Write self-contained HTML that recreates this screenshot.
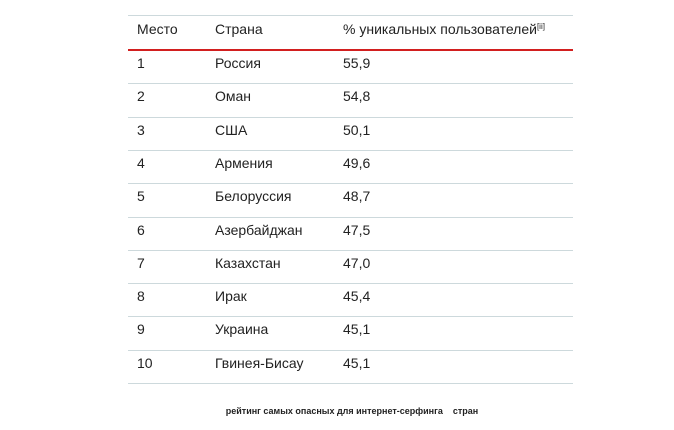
<!DOCTYPE html>
<html><head><meta charset="utf-8"><style>
body{margin:0;width:674px;height:430px;background:#fff;font-family:"Liberation Sans",Arial,sans-serif;color:#222;position:relative;overflow:hidden}
.l{position:absolute;left:128px;width:445px;height:1px;background:#cdd9dc}
.t{position:absolute;font-size:14px;line-height:16px}
.cap{position:absolute;top:406px;left:0;width:704px;text-align:center;font-size:9px;font-weight:bold;color:#222}
</style></head><body>
<div class="l" style="top:15px"></div>
<div class="t" style="left:137px;top:21px">Место</div>
<div class="t" style="left:215px;top:21px">Страна</div>
<div class="t" style="left:343px;top:21px">% уникальных пользователей<sup style="font-size:8px;vertical-align:5px;line-height:0">[ii]</sup></div>
<div style="position:absolute;left:128px;width:445px;top:49px;height:2px;background:#d21f1f"></div>
<div id="rows"></div>
<script>
var d=[["1","Россия","55,9"],["2","Оман","54,8"],["3","США","50,1"],["4","Армения","49,6"],["5","Белоруссия","48,7"],["6","Азербайджан","47,5"],["7","Казахстан","47,0"],["8","Ирак","45,4"],["9","Украина","45,1"],["10","Гвинея-Бисау","45,1"]];
var h="";
d.forEach(function(r,i){var y=50+i*33.3;
h+='<div class="t" style="left:137px;top:'+(y+5)+'px">'+r[0]+'</div><div class="t" style="left:215px;top:'+(y+5)+'px">'+r[1]+'</div><div class="t" style="left:343px;top:'+(y+5)+'px">'+r[2]+'</div><div class="l" style="top:'+Math.round(y+33.3)+'px"></div>';});
document.getElementById("rows").innerHTML=h;
</script>
<div class="cap">рейтинг самых опасных для интернет-серфинга&nbsp;&nbsp;&nbsp; стран</div>
</body></html>
